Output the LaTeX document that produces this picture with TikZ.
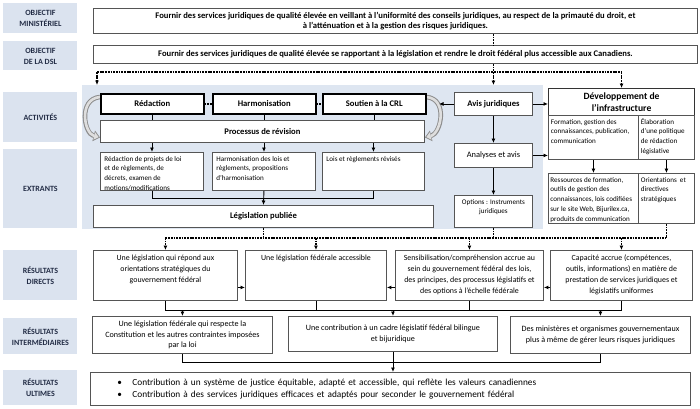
\documentclass[tikz,border=0pt]{standalone}
\usepackage{fontspec}
\setmainfont{Carlito}
\usetikzlibrary{arrows.meta,calc,backgrounds}

\definecolor{lblblue}{RGB}{219,227,239}
\definecolor{panelblue}{RGB}{222,230,241}
\definecolor{lbltext}{RGB}{35,45,70}
\definecolor{boxgray}{RGB}{85,85,85}
\definecolor{arcgray}{RGB}{140,140,140}
\definecolor{arcfill}{RGB}{222,222,222}

% text set at the top of a box of given width and height (pt)
\newcommand{\toptext}[4][c]{\parbox[c][#3pt][t]{#2pt}{\if l#1\raggedright\else\centering\fi
  \begin{tabular}[t]{@{}#1@{}}#4\end{tabular}}}

\tikzset{
  lbl/.style={fill=lblblue, text=lbltext, anchor=north west, inner sep=0pt,
    minimum width=74pt, align=center, font=\bfseries\fontsize{8}{11}\selectfont},
  box/.style={draw=boxgray, line width=0.9pt, fill=white, anchor=north west,
    inner xsep=3pt, inner ysep=2pt, align=center, font=\fontsize{7.9}{11}\selectfont},
  bbox/.style={box, font=\bfseries\fontsize{8.6}{10}\selectfont},
  actbox/.style={bbox, draw=black, line width=1.5pt},
  small/.style={box, inner xsep=4pt, font=\fontsize{7.1}{9.7}\selectfont},
  arr/.style={-{Latex[length=4.5pt,width=4pt]}},
  dots/.style={line width=1.5pt, dash pattern=on 1.8pt off 0.9pt},
  arc/.style={draw=arcgray, line width=4.6pt,
    -{Triangle[length=6.5pt,width=11pt,line width=0pt]},
    postaction={draw=arcfill, line width=2.6pt, shorten >=1.4pt,
      -{Triangle[length=4.5pt,width=7.5pt,line width=0pt]}}}
}

\begin{document}
\begin{tikzpicture}[x=1pt, y=-1pt, line width=0.9pt]
\useasboundingbox (0,0) rectangle (700,408);

% row labels
\node[lbl, minimum height=30pt] (lmin) at (3,3) {OBJECTIF\\MINISTÉRIEL};
\node[lbl, minimum height=29pt] (ldsl) at (3,41) {OBJECTIF\\DE LA DSL};
\node[lbl, minimum height=50pt] (lact) at (3,92) {ACTIVITÉS};
\node[lbl, minimum height=79pt] (lext) at (3,149) {EXTRANTS};
\node[lbl, minimum height=50pt] (lrd) at (3,250) {RÉSULTATS\\DIRECTS};
\node[lbl, minimum height=36pt] (lri) at (3,318) {RÉSULTATS\\INTERMÉDIAIRES};
\node[lbl, minimum height=35pt] (lru) at (3,370) {RÉSULTATS\\ULTIMES};

% objectives
\node[bbox, minimum width=604pt, minimum height=25pt, font=\bfseries\fontsize{8.6}{10.5}\selectfont] (omin) at (93,8)
  {Fournir des services juridiques de qualité élevée en veillant à l’uniformité des conseils juridiques, au respect de la primauté du droit, et\\à l’atténuation et à la gestion des risques juridiques.};
\node[bbox, minimum width=604pt, minimum height=18pt, font=\bfseries\fontsize{8.6}{10.5}\selectfont] (odsl) at (93,45)
  {Fournir des services juridiques de qualité élevée se rapportant à la législation et rendre le droit fédéral plus accessible aux Canadiens.};

% activities
\node[actbox, minimum width=103pt, minimum height=20pt] (red) at (100,93) {Rédaction};
\node[actbox, minimum width=103pt, minimum height=20pt] (harm) at (212,93) {Harmonisation};
\node[actbox, minimum width=103pt, minimum height=20pt] (crl) at (322,93) {Soutien à la CRL};
\node[bbox, minimum width=324pt, minimum height=22pt] (proc) at (100,120) {Processus de révision};
\node[bbox, minimum width=78pt, minimum height=23pt] (av) at (454,92) {Avis juridiques};
\node[box, minimum width=78pt, minimum height=24pt, font=\fontsize{8.4}{10}\selectfont] (an) at (454,143) {Analyses et avis};
\node[bbox, draw=black!80, line width=1.1pt, minimum width=146pt, minimum height=27pt,
  font=\bfseries\fontsize{9.6}{11.5}\selectfont] (dev) at (548,88) {Développement de\\l’infrastructure};
\node[small, inner xsep=2.5pt] (d1) at (548,115) {\toptext[l]{85}{40}{Formation, gestion des\\connaissances, publication,\\communication}};
\node[small, inner xsep=2.5pt] (d2) at (638,115) {\toptext[l]{51}{40}{Élaboration\\d’une politique\\de rédaction\\législative}};

% outputs
\node[small] (e1) at (100,152) {\toptext[l]{95}{34}{Rédaction de projets de loi\\et de règlements, de\\décrets, examen de\\motions/modifications}};
\node[small] (e2) at (212,152) {\toptext[l]{95}{34}{Harmonisation des lois et\\règlements, propositions\\d’harmonisation}};
\node[small] (e3) at (322,152) {\toptext[l]{94}{34}{Lois et règlements révisés}};
\node[bbox, minimum width=340pt, minimum height=22pt] (leg) at (93,205) {Législation publiée};
\node[small] (op) at (454,195) {\toptext{70}{28}{Options : Instruments\\juridiques}};
\node[small, inner xsep=2pt] (d3) at (548,173) {\toptext[l]{86}{46}{Ressources de formation,\\outils de gestion des\\connaissances, lois codifiées\\sur le site Web, Bijurilex.ca,\\produits de communication}};
\node[small, inner xsep=2.5pt] (d4) at (638,173) {\toptext[l]{51}{46}{Orientations~ et\\directives\\stratégiques}};

% direct results
\node[box] (rd1) at (93,250) {\toptext{138}{46}{Une législation qui répond aux\\orientations stratégiques du\\gouvernement fédéral}};
\node[box] (rd2) at (245,250) {\toptext{135}{46}{Une législation fédérale accessible}};
\node[box] (rd3) at (395,250) {\toptext{142}{46}{Sensibilisation/compréhension accrue au\\sein du gouvernement fédéral des lois,\\des principes, des processus législatifs et\\des options à l’échelle fédérale}};
\node[box] (rd4) at (550,250) {\toptext{136}{46}{Capacité accrue (compétences,\\outils, informations) en matière de\\prestation de services juridiques et\\législatifs uniformes}};

% intermediate results
\node[box, minimum width=180pt, minimum height=37pt, font=\fontsize{8.1}{10.8}\selectfont] (ri1) at (92,316)
  {Une législation fédérale qui respecte la\\Constitution et les autres contraintes imposées\\par la loi};
\node[box, minimum width=209pt, minimum height=35pt, font=\fontsize{8.1}{10.8}\selectfont] (ri2) at (288,316)
  {Une contribution à un cadre législatif fédéral bilingue\\et bijuridique};
\node[box, minimum width=180pt, minimum height=37pt, font=\fontsize{8.1}{10.8}\selectfont] (ri3) at (510,316)
  {Des ministères et organismes gouvernementaux\\plus à même de gérer leurs risques juridiques};

% ultimate results
\node[box, align=left, text width=594pt, minimum height=33pt, font=\fontsize{9.3}{12}\selectfont] (ult) at (90,372)
  {\hspace*{24pt}\makebox[15pt][l]{•}Contribution à un système de justice équitable, adapté et accessible, qui reflète les valeurs canadiennes\\
   \hspace*{24pt}\makebox[15pt][l]{•}Contribution à des services juridiques efficaces et adaptés pour seconder le gouvernement fédéral};

% panel and curved arrows
\begin{scope}[on background layer]
  \node[fill=panelblue, anchor=north west, inner sep=0pt, minimum width=461pt, minimum height=144pt] (pnl) at (82,85) {};
  \draw[arc] ([yshift=-4pt]red.north west) .. controls +(-22,2) and +(-16,-4) .. ([yshift=-6pt]proc.west);
  \draw[arc] ([yshift=-4pt]crl.north east) .. controls +(22,2) and +(16,-4) .. ([yshift=-6pt]proc.east);
\end{scope}

% objectives to activities
\coordinate (jl) at (97,72);
\coordinate (crlarc) at (439,103);
\draw[dots] (omin.south -| av) -- (odsl.north -| av);
\draw[dots] (odsl.south -| av) -- (av |- jl);
\draw[dots] (jl) -- (jl -| dev.north);
\draw[dots, arr] (jl) -- (jl |- pnl.north);
\draw[dots, arr] (av |- jl) -- (av |- pnl.north);
\draw[dots, arr] (jl -| dev.north) -- (dev.north);

% activities to outputs
\draw[dots] (red.east) -- (harm.west);
\draw[dots] (harm.east) -- (crl.west);
\foreach \n in {red,harm,crl}
  \draw (\n.south) -- (\n.south |- proc.north);
\foreach \n in {e1,e2,e3}
  \draw[arr] (proc.south -| \n.north) -- (\n.north);
\coordinate (em) at ($(e2.south)!.5!(leg.north)$);
\draw (e1.south) |- (em) -| (e3.south);
\draw[arr] (e2.south) -- (leg.north);
\draw[arr] (av.west) -- (av.west -| crlarc);
\draw[arr] (av.east) -- (av.east -| dev.west);
\draw[arr] (av) -- (an);
\draw[arr] (an) -- (op);
\draw[arr] (an.east) -- (an.east -| d1.west);
\draw[arr] (d1) -- (d3);
\draw[arr] (d2) -- (d4);

% outputs to direct results
\path (leg.south) ++(0,10) coordinate (bl);
\draw[dots] (leg.south) -- (bl);
\draw[dots] (bl -| rd1.north) -- (bl -| d4.south);
\draw[dots] (op.south) -- (op.south |- bl);
\draw[dots] (d4.south) -- (d4.south |- bl);
\foreach \n in {rd1,rd2,rd3,rd4}
  \draw[dots, arr] (bl -| \n.north) -- (\n.north);
\draw[arr] ([yshift=-12pt]rd1.east) -- ([yshift=-12pt]rd2.west);
\draw[arr] ([yshift=-12pt]rd3.west) -- ([yshift=-12pt]rd2.east);
\draw[arr] ([yshift=-12pt]rd4.west) -- ([yshift=-12pt]rd3.east);

% direct to intermediate to ultimate
\path (rd1.south) ++(0,10) coordinate (bm);
\draw (rd1.south) |- (bm -| rd4.south) -- (rd4.south);
\draw (rd2.south) -- (rd2.south |- bm);
\draw (rd3.south) -- (rd3.south |- bm);
\foreach \n in {ri1,ri2,ri3}
  \draw[arr] (bm -| \n.north) -- (\n.north);
\path (ri1.south) ++(0,9) coordinate (bu);
\draw (ri1.south) |- (bu -| ri3.south) -- (ri3.south);
\draw[arr] (ri2.south) -- (ri2.south |- ult.north);

\end{tikzpicture}
\end{document}
